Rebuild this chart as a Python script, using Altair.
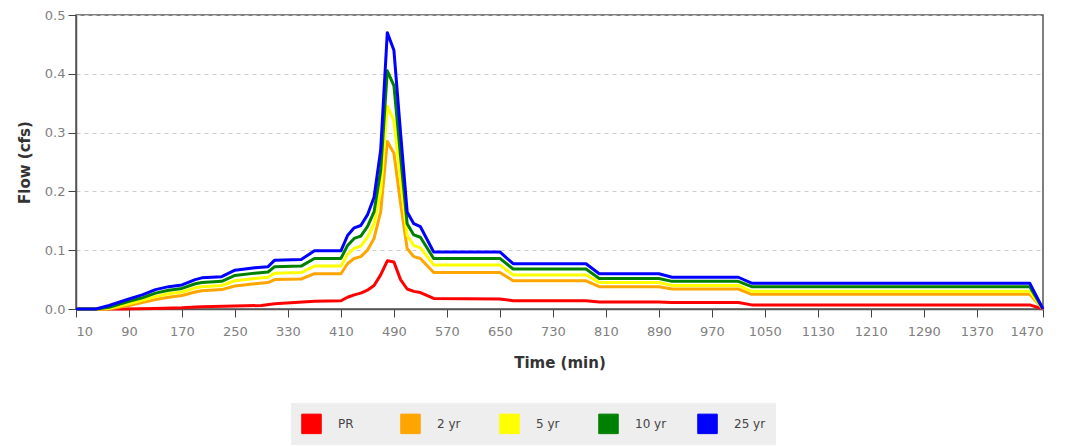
import altair as alt
import pandas as pd

series_names = ["PR", "2 yr", "5 yr", "10 yr", "25 yr"]
series_colors = ["#ff0000", "#ffa500", "#ffff00", "#008000", "#0000ff"]

x_ticks = [10, 90, 170, 250, 330, 410, 490, 570, 650, 730, 810, 890, 970,
           1050, 1130, 1210, 1290, 1370, 1470]
y_ticks = [0.0, 0.1, 0.2, 0.3, 0.4, 0.5]

# PR (pre-development) hydrograph
pr_time = [10, 80, 130, 170, 200, 250, 290, 310, 340, 370, 410, 420, 430, 440,
           450, 460, 470, 480, 490, 500, 510, 520, 530, 550, 650, 670, 780, 800,
           890, 910, 1010, 1030, 1450, 1470]
pr_flow = [0, 0, 0.001, 0.002, 0.004, 0.005, 0.006, 0.009, 0.011, 0.013, 0.014,
           0.02, 0.024, 0.027, 0.032, 0.04, 0.058, 0.082, 0.08, 0.05, 0.034,
           0.03, 0.028, 0.018, 0.017, 0.014, 0.014, 0.012, 0.012, 0.011, 0.011,
           0.007, 0.007, 0]

# shared time steps for the design storms
storm_time = [10, 40, 60, 90, 110, 130, 150, 170, 190, 200, 230, 250, 280, 300,
              310, 350, 370, 410, 420, 430, 440, 450, 460, 470, 480, 490, 500,
              510, 520, 530, 550, 650, 670, 780, 800, 890, 910, 1010, 1030,
              1450, 1470]
flow_2yr = [0, 0, 0, 0.006, 0.011, 0.016, 0.02, 0.023, 0.029, 0.031,
            0.033, 0.039, 0.043, 0.045, 0.05, 0.051, 0.06, 0.06, 0.077, 0.086,
            0.089, 0.1, 0.12, 0.165, 0.285, 0.265, 0.18, 0.103, 0.089, 0.086,
            0.062, 0.062, 0.048, 0.048, 0.038, 0.038, 0.034, 0.034, 0.025, 0.025,
            0]
flow_5yr = [0, 0, 0.001, 0.009, 0.015, 0.021, 0.026, 0.029, 0.036, 0.038,
            0.04, 0.048, 0.052, 0.054, 0.061, 0.062, 0.073, 0.073, 0.093, 0.103,
            0.107, 0.122, 0.145, 0.2, 0.345, 0.32, 0.22, 0.125, 0.108, 0.104,
            0.075, 0.075, 0.058, 0.058, 0.045, 0.045, 0.04, 0.04, 0.03, 0.03,
            0]
flow_10yr = [0, 0, 0.003, 0.013, 0.019, 0.027, 0.032, 0.035, 0.043, 0.045,
             0.047, 0.057, 0.061, 0.063, 0.072, 0.073, 0.086, 0.086, 0.108, 0.12,
             0.124, 0.14, 0.165, 0.235, 0.405, 0.38, 0.26, 0.145, 0.126, 0.122,
             0.086, 0.086, 0.068, 0.068, 0.052, 0.052, 0.047, 0.047, 0.038, 0.038,
             0]
flow_25yr = [0, 0, 0.006, 0.017, 0.024, 0.033, 0.038, 0.041, 0.05, 0.053,
             0.055, 0.066, 0.07, 0.072, 0.083, 0.084, 0.099, 0.099, 0.125, 0.138,
             0.142, 0.16, 0.19, 0.27, 0.47, 0.44, 0.3, 0.165, 0.145, 0.14,
             0.097, 0.097, 0.077, 0.077, 0.06, 0.06, 0.054, 0.054, 0.044, 0.044,
             0]

rows = []
for name, times, flows in [("PR", pr_time, pr_flow),
                           ("2 yr", storm_time, flow_2yr),
                           ("5 yr", storm_time, flow_5yr),
                           ("10 yr", storm_time, flow_10yr),
                           ("25 yr", storm_time, flow_25yr)]:
    for t, f in zip(times, flows):
        rows.append({"Time": t, "Flow": f, "Series": name})
df = pd.DataFrame(rows)

FONT = "DejaVu Sans"

color = alt.Color(
    "Series:N",
    sort=series_names,
    scale=alt.Scale(domain=series_names, range=series_colors),
    legend=alt.Legend(
        title=None, orient="none", legendX=215, legendY=388,
        direction="horizontal", columns=5, gridAlign="all",
        symbolType="square", symbolSize=380, symbolStrokeColor="#444444",
        symbolStrokeWidth=1, symbolOpacity=1, fillColor="#eeeeee", padding=10,
        columnPadding=28, labelOffset=16, labelFont=FONT, labelFontSize=12,
        labelColor="#444444",
    ),
)

x = alt.X("Time:Q", scale=alt.Scale(domain=[10, 1470], nice=False, zero=False),
          axis=alt.Axis(values=x_ticks, format="d", title="Time (min)", grid=False,
                        tickSize=8, labelPadding=8, titlePadding=17))
y = alt.Y("Flow:Q", scale=alt.Scale(domain=[0, 0.5], nice=False),
          axis=alt.Axis(values=y_ticks, format=".1f", title="Flow (cfs)",
                        grid=True, gridDash=[4, 4], gridColor="#cccccc",
                        tickSize=8, labelPadding=3, titlePadding=12))

legend_layer = alt.Chart(df).mark_square(filled=True, opacity=1).encode(
    x=x, y=y, color=color
).transform_filter("datum.Flow < 0")

lines = alt.Chart(df).mark_line(strokeWidth=3, strokeJoin="round").encode(
    x=x, y=y, color=color
)

chart = alt.layer(legend_layer, lines).properties(
    width=967, height=294,
    autosize=alt.AutoSizeParams(type="none"),
    padding={"left": 68, "top": 7, "right": 17, "bottom": 136},
).configure_view(
    stroke="#555555", strokeWidth=1.5
).configure_axis(
    labelFont=FONT, labelFontSize=13, labelColor="#808080",
    titleFont=FONT, titleFontSize=15, titleFontWeight="bold", titleColor="#333333",
    tickColor="#444444", domainColor="#555555", domainWidth=1.5,
)

chart.save("out.html", embed_options={"renderer": "svg", "actions": False})
